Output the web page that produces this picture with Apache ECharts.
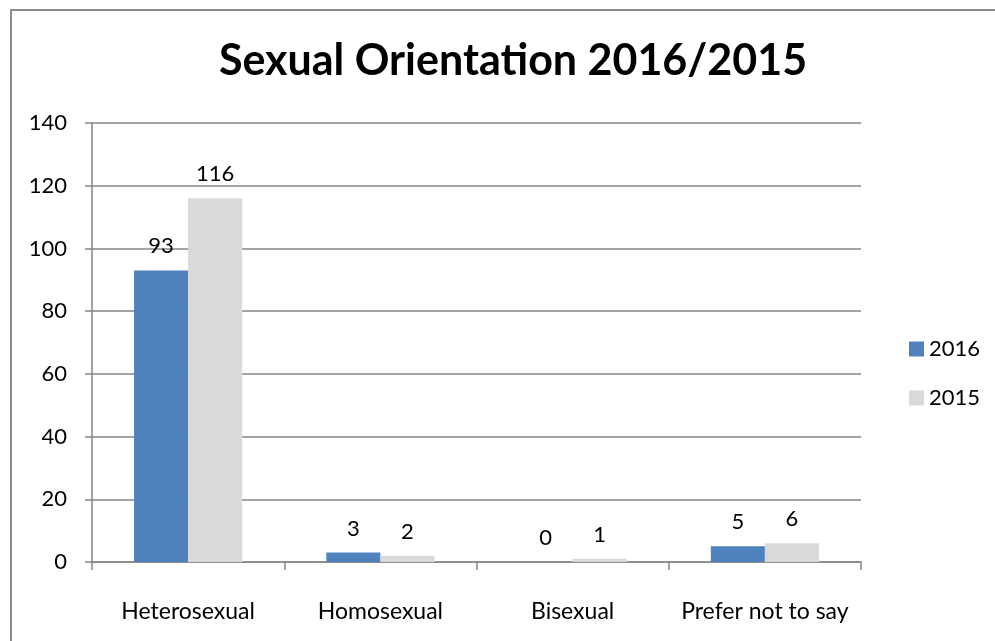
<!DOCTYPE html>
<html>
<head>
    <meta charset="utf-8">
    <script src="https://cdn.jsdelivr.net/npm/echarts@6/dist/echarts.min.js"></script>
    <title>Sexual Orientation 2016/2015</title>
    <style>
        html, body { margin: 0; padding: 0; background: #fff; }
        #container { width: 995px; height: 641px; }
    </style>
</head>
<body>
<div id="container"></div>
<script>
    var categories = ['Heterosexual', 'Homosexual', 'Bisexual', 'Prefer not to say'];
    var seriesNames = ['2016', '2015'];
    var values2016 = [93, 3, 0, 5];
    var values2015 = [116, 2, 1, 6];

    var font = 'Lato, "Open Sans", sans-serif';
    var chart = echarts.init(document.getElementById('container'));

    var labelStyle = {
        show: true,
        position: 'top',
        distance: 13,
        color: '#000',
        fontFamily: font,
        fontSize: 22
    };

    var option = {
        backgroundColor: '#fff',
        animation: false,
        title: {
            text: 'Sexual Orientation 2016/2015',
            left: 508,
            textAlign: 'center',
            top: 35,
            textStyle: {
                fontFamily: font,
                fontSize: 43,
                fontWeight: 'bold',
                color: '#000'
            }
        },
        legend: {
            orient: 'vertical',
            left: 904,
            top: 333,
            itemWidth: 15,
            itemHeight: 15,
            itemGap: 27,
            icon: 'rect',
            data: seriesNames,
            textStyle: { fontFamily: font, fontSize: 22, color: '#000' }
        },
        graphic: [{
            type: 'rect',
            shape: { x: 11, y: 10, width: 1000, height: 700 },
            style: { fill: 'none', stroke: '#8a8a8a', lineWidth: 2 },
            silent: true
        }],
        grid: { left: 92, top: 123, right: 134, bottom: 79 },
        xAxis: {
            type: 'category',
            data: categories,
            axisLine: { lineStyle: { color: '#868686', width: 1.5 } },
            axisTick: { show: true, interval: 0, length: 8, lineStyle: { color: '#868686', width: 1.5 } },
            axisLabel: { interval: 0, hideOverlap: false, color: '#000', fontFamily: font, fontSize: 23, margin: 38 }
        },
        yAxis: {
            type: 'value',
            min: 0,
            max: 140,
            interval: 20,
            axisLine: { show: true, lineStyle: { color: '#868686', width: 1.5 } },
            axisTick: { show: true, length: 7, lineStyle: { color: '#868686', width: 1.5 } },
            splitLine: { lineStyle: { color: '#868686', width: 1.5 } },
            axisLabel: { color: '#000', fontFamily: font, fontSize: 22, margin: 25 }
        },
        series: [{
            name: seriesNames[0],
            type: 'bar',
            data: values2016,
            barGap: '0%',
            barCategoryGap: '43.75%',
            itemStyle: { color: '#4f81bd' },
            label: labelStyle
        }, {
            name: seriesNames[1],
            type: 'bar',
            data: values2015,
            barGap: '0%',
            barCategoryGap: '43.75%',
            itemStyle: { color: '#d9d9d9' },
            label: labelStyle
        }]
    };

    chart.setOption(option);
</script>
</body>
</html>
